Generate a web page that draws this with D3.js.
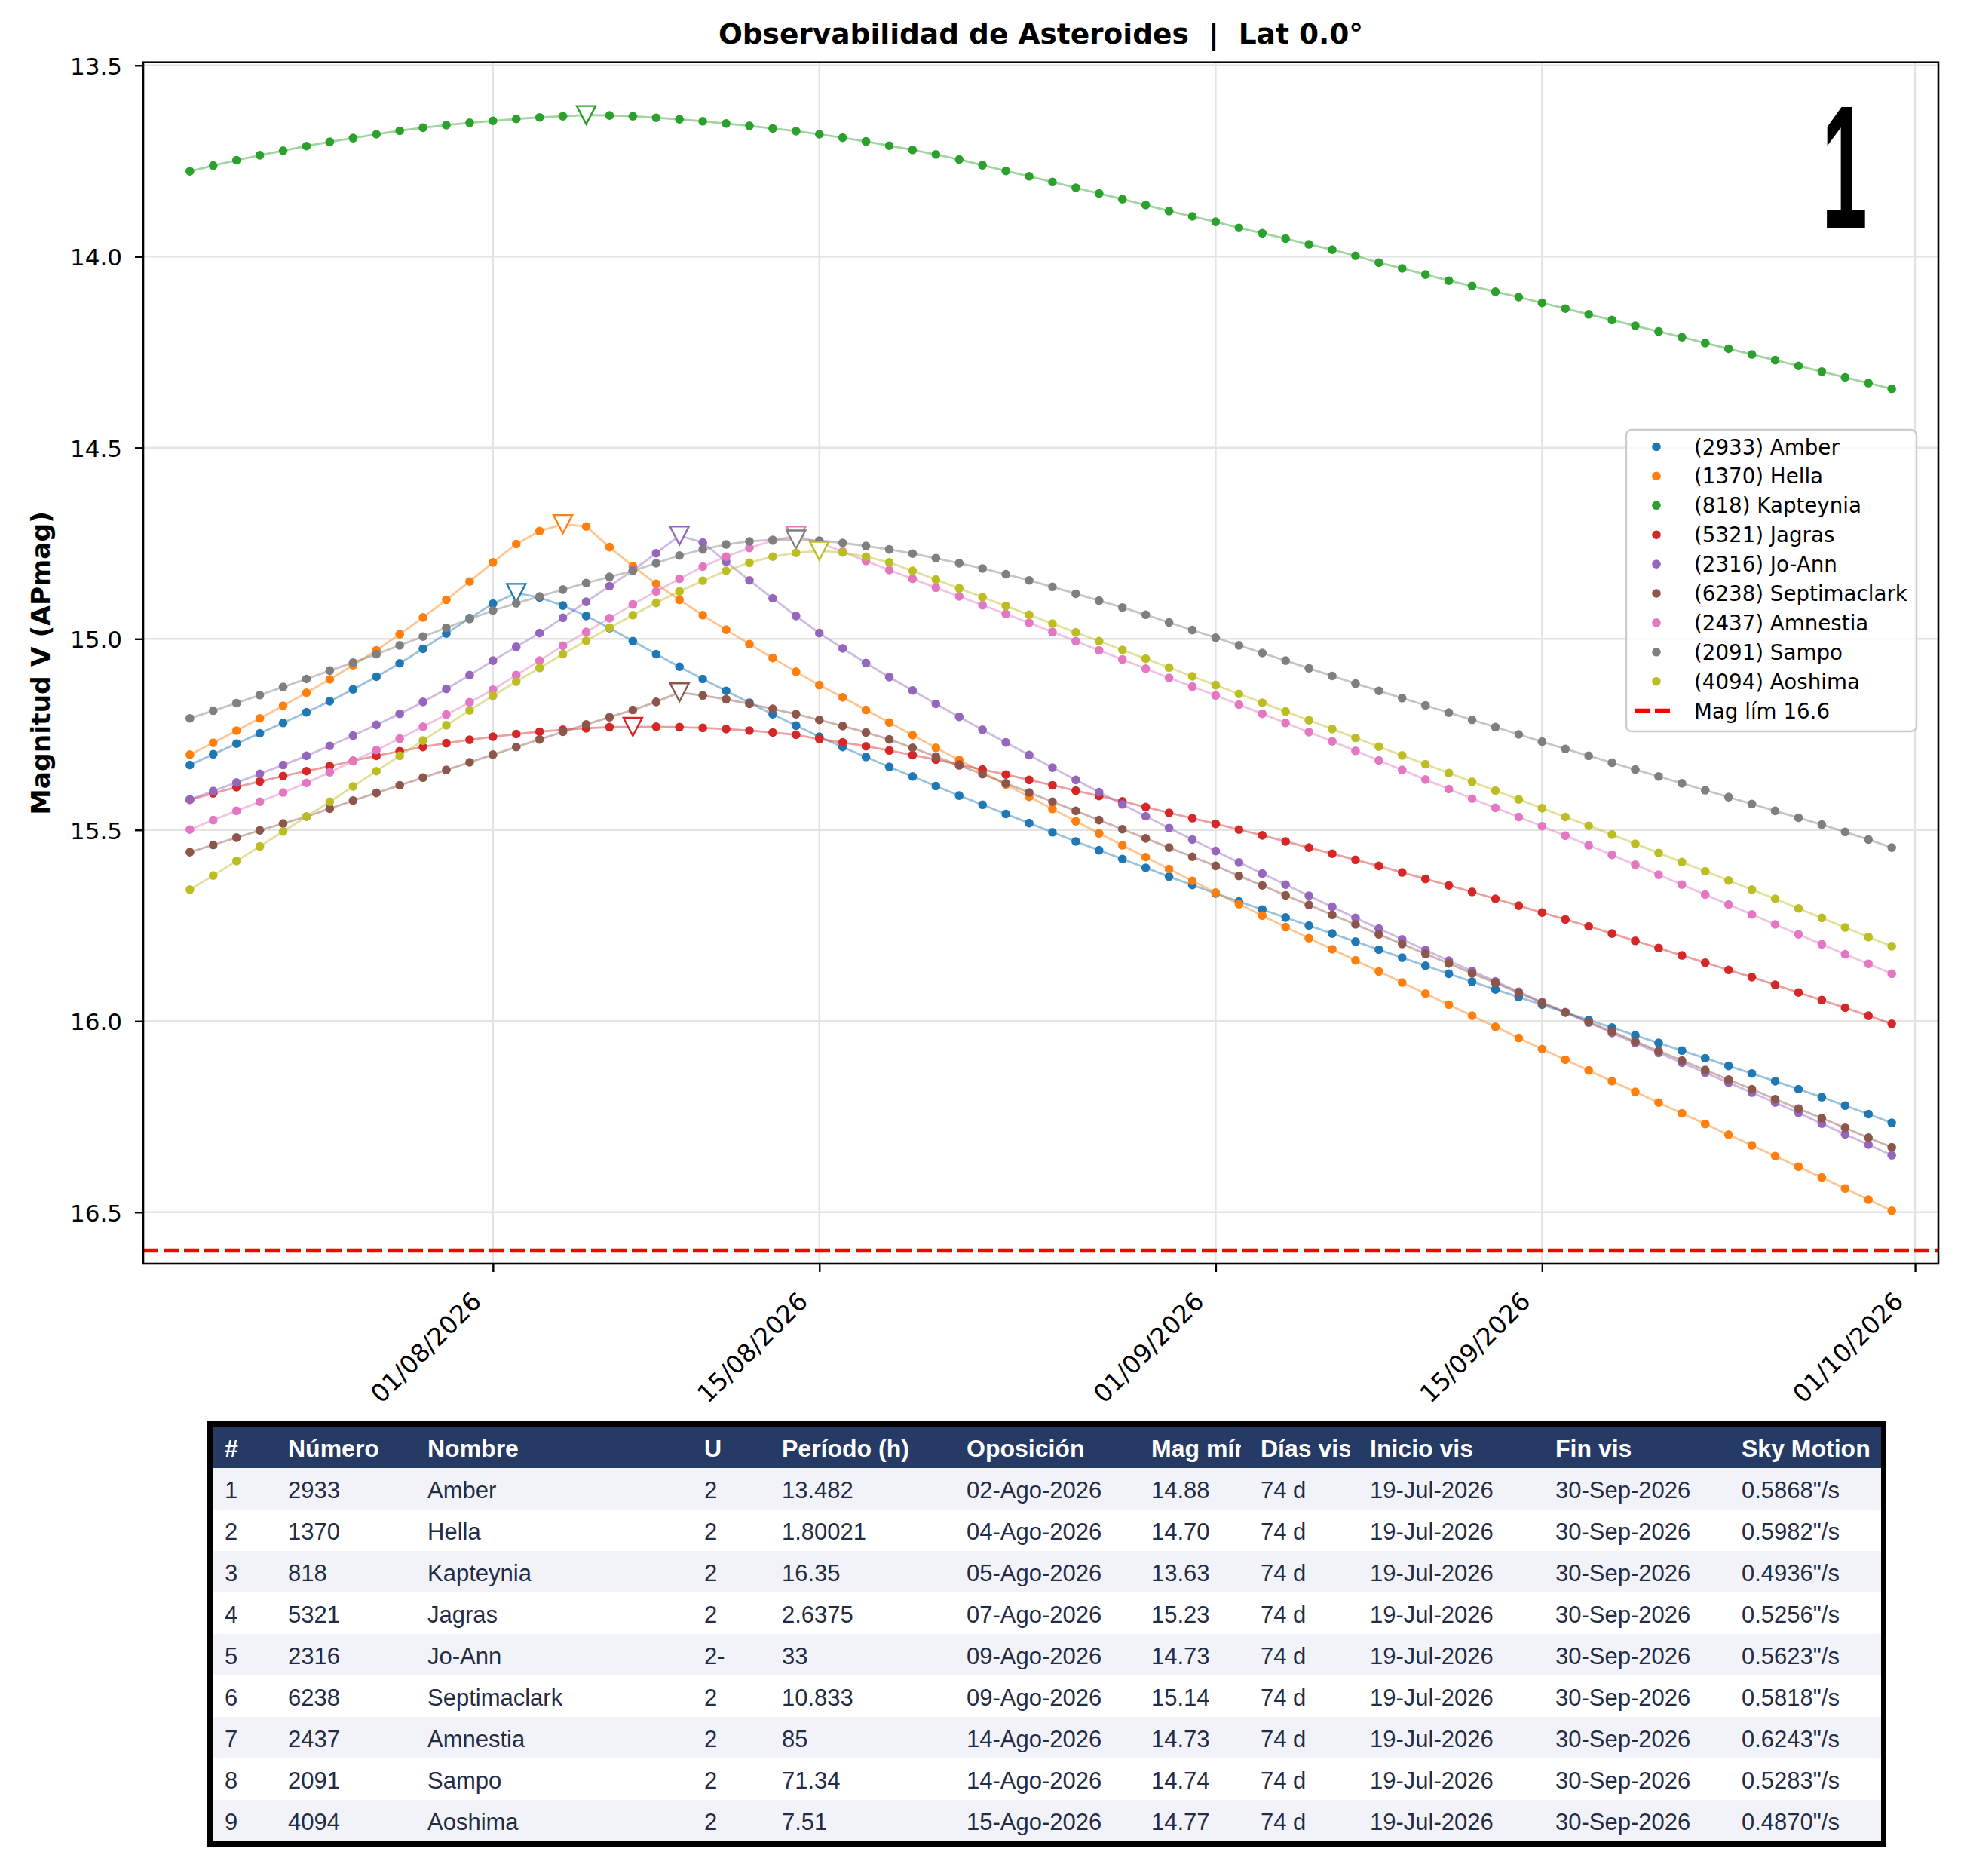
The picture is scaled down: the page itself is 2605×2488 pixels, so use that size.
<!DOCTYPE html>
<html>
<head>
<meta charset="utf-8">
<style>
html, body { margin:0; padding:0; background:#fff; }
svg { display:block; }
</style>
</head>
<body>
<svg id="chart" width="2605" height="2488"></svg>
<script src="https://cdn.jsdelivr.net/npm/d3@7/dist/d3.min.js"></script>
<script>
// daily magnitudes, 19-Jul-2026 .. 30-Sep-2026
var firstDay = "2026-07-19";
var names = ["(2933) Amber", "(1370) Hella", "(818) Kapteynia", "(5321) Jagras", "(2316) Jo-Ann",
             "(6238) Septimaclark", "(2437) Amnestia", "(2091) Sampo", "(4094) Aoshima"];
var colors = ["#1f77b4", "#ff7f0e", "#2ca02c", "#d62728", "#9467bd", "#8c564b", "#e377c2", "#7f7f7f", "#bcbd22"];

var amber = [15.330, 15.302, 15.274, 15.247, 15.220, 15.192, 15.163, 15.132, 15.099, 15.064,
  15.026, 14.986, 14.946, 14.908, 14.880, 14.892, 14.913, 14.940, 14.972, 15.006,
  15.040, 15.073, 15.105, 15.136, 15.167, 15.197, 15.227, 15.256, 15.283, 15.309,
  15.335, 15.360, 15.385, 15.410, 15.434, 15.458, 15.482, 15.506, 15.530, 15.553,
  15.576, 15.599, 15.622, 15.644, 15.666, 15.687, 15.708, 15.729, 15.750, 15.771,
  15.792, 15.813, 15.834, 15.855, 15.876, 15.897, 15.917, 15.937, 15.957, 15.977,
  15.997, 16.017, 16.037, 16.057, 16.077, 16.097, 16.117, 16.137, 16.157, 16.178,
  16.199, 16.221, 16.243, 16.266];
var hella = [15.303, 15.272, 15.240, 15.208, 15.175, 15.141, 15.106, 15.069, 15.030, 14.988,
  14.944, 14.898, 14.850, 14.800, 14.752, 14.718, 14.700, 14.706, 14.760, 14.810,
  14.856, 14.898, 14.938, 14.976, 15.014, 15.050, 15.086, 15.121, 15.153, 15.186,
  15.219, 15.252, 15.285, 15.317, 15.349, 15.381, 15.413, 15.445, 15.477, 15.509,
  15.540, 15.571, 15.602, 15.633, 15.664, 15.694, 15.724, 15.754, 15.783, 15.812,
  15.841, 15.870, 15.899, 15.928, 15.957, 15.986, 16.015, 16.044, 16.073, 16.101,
  16.129, 16.157, 16.185, 16.213, 16.241, 16.269, 16.297, 16.325, 16.353, 16.381,
  16.409, 16.438, 16.467, 16.496];
var kapteynia = [13.777, 13.762, 13.748, 13.735, 13.723, 13.711, 13.700, 13.690, 13.680, 13.671,
  13.663, 13.656, 13.650, 13.645, 13.640, 13.636, 13.633, 13.630, 13.631, 13.633,
  13.637, 13.641, 13.646, 13.652, 13.658, 13.665, 13.672, 13.680, 13.689, 13.699,
  13.710, 13.721, 13.733, 13.746, 13.761, 13.776, 13.790, 13.805, 13.820, 13.835,
  13.850, 13.865, 13.881, 13.895, 13.909, 13.925, 13.939, 13.953, 13.968, 13.982,
  13.998, 14.016, 14.031, 14.047, 14.063, 14.077, 14.092, 14.106, 14.121, 14.136,
  14.151, 14.166, 14.181, 14.196, 14.211, 14.226, 14.241, 14.256, 14.271, 14.286,
  14.301, 14.316, 14.331, 14.346];
var jagras = [15.421, 15.404, 15.388, 15.373, 15.359, 15.346, 15.333, 15.319, 15.306, 15.294,
  15.283, 15.273, 15.264, 15.256, 15.249, 15.243, 15.238, 15.234, 15.231, 15.230,
  15.230, 15.231, 15.233, 15.236, 15.240, 15.245, 15.251, 15.262, 15.271, 15.281,
  15.292, 15.304, 15.316, 15.329, 15.342, 15.355, 15.369, 15.383, 15.397, 15.411,
  15.425, 15.440, 15.455, 15.469, 15.484, 15.499, 15.514, 15.530, 15.546, 15.562,
  15.578, 15.594, 15.611, 15.628, 15.645, 15.662, 15.680, 15.698, 15.716, 15.734,
  15.752, 15.771, 15.790, 15.809, 15.828, 15.847, 15.866, 15.885, 15.905, 15.925,
  15.945, 15.965, 15.986, 16.007];
var joann = [15.420, 15.398, 15.376, 15.353, 15.330, 15.306, 15.280, 15.253, 15.225, 15.196,
  15.165, 15.131, 15.095, 15.057, 15.021, 14.985, 14.945, 14.903, 14.862, 14.821,
  14.776, 14.730, 14.748, 14.798, 14.847, 14.894, 14.940, 14.985, 15.025, 15.063,
  15.100, 15.135, 15.170, 15.204, 15.238, 15.271, 15.304, 15.337, 15.369, 15.401,
  15.433, 15.464, 15.495, 15.525, 15.555, 15.585, 15.614, 15.643, 15.672, 15.701,
  15.730, 15.758, 15.786, 15.814, 15.842, 15.869, 15.896, 15.923, 15.950, 15.977,
  16.004, 16.031, 16.057, 16.083, 16.109, 16.135, 16.161, 16.187, 16.213, 16.240,
  16.268, 16.296, 16.323, 16.351];
var septimaclark = [15.558, 15.539, 15.520, 15.501, 15.483, 15.465, 15.444, 15.423, 15.403, 15.383,
  15.363, 15.343, 15.323, 15.303, 15.283, 15.263, 15.243, 15.224, 15.205, 15.186,
  15.165, 15.140, 15.148, 15.158, 15.170, 15.183, 15.197, 15.212, 15.228, 15.245,
  15.263, 15.285, 15.308, 15.331, 15.354, 15.378, 15.402, 15.426, 15.450, 15.474,
  15.498, 15.522, 15.546, 15.570, 15.594, 15.620, 15.645, 15.671, 15.696, 15.722,
  15.747, 15.773, 15.798, 15.824, 15.849, 15.875, 15.900, 15.926, 15.952, 15.977,
  16.002, 16.027, 16.053, 16.078, 16.103, 16.128, 16.153, 16.178, 16.204, 16.229,
  16.254, 16.279, 16.305, 16.330];
var amnestia = [15.499, 15.474, 15.450, 15.426, 15.402, 15.377, 15.349, 15.320, 15.291, 15.261,
  15.230, 15.198, 15.166, 15.133, 15.095, 15.057, 15.018, 14.982, 14.946, 14.910,
  14.876, 14.843, 14.811, 14.785, 14.762, 14.743, 14.730, 14.748, 14.772, 14.796,
  14.820, 14.843, 14.866, 14.889, 14.912, 14.935, 14.958, 14.982, 15.006, 15.030,
  15.054, 15.078, 15.102, 15.125, 15.148, 15.172, 15.196, 15.220, 15.244, 15.268,
  15.293, 15.318, 15.343, 15.368, 15.393, 15.418, 15.442, 15.466, 15.490, 15.515,
  15.540, 15.565, 15.591, 15.617, 15.643, 15.669, 15.695, 15.721, 15.747, 15.773,
  15.799, 15.825, 15.850, 15.876];
var sampo = [15.208, 15.188, 15.168, 15.147, 15.126, 15.105, 15.083, 15.062, 15.040, 15.017,
  14.994, 14.971, 14.948, 14.926, 14.907, 14.889, 14.871, 14.854, 14.838, 14.822,
  14.802, 14.782, 14.766, 14.753, 14.745, 14.741, 14.740, 14.743, 14.749, 14.757,
  14.766, 14.777, 14.789, 14.802, 14.816, 14.831, 14.847, 14.864, 14.882, 14.900,
  14.918, 14.937, 14.957, 14.977, 14.997, 15.017, 15.037, 15.057, 15.077, 15.097,
  15.117, 15.136, 15.155, 15.174, 15.193, 15.212, 15.231, 15.250, 15.269, 15.288,
  15.306, 15.324, 15.342, 15.360, 15.378, 15.396, 15.414, 15.432, 15.450, 15.468,
  15.486, 15.505, 15.525, 15.546];
var aoshima = [15.656, 15.619, 15.581, 15.543, 15.504, 15.465, 15.426, 15.386, 15.346, 15.306,
  15.266, 15.226, 15.187, 15.149, 15.112, 15.076, 15.040, 15.005, 14.971, 14.938,
  14.906, 14.876, 14.848, 14.822, 14.801, 14.785, 14.775, 14.770, 14.774, 14.785,
  14.800, 14.822, 14.845, 14.868, 14.891, 14.914, 14.937, 14.960, 14.983, 15.006,
  15.029, 15.052, 15.075, 15.098, 15.121, 15.144, 15.167, 15.190, 15.213, 15.236,
  15.259, 15.282, 15.305, 15.328, 15.351, 15.374, 15.397, 15.420, 15.443, 15.466,
  15.489, 15.512, 15.536, 15.560, 15.584, 15.608, 15.632, 15.656, 15.680, 15.705,
  15.730, 15.755, 15.780, 15.804];
var series = [amber, hella, kapteynia, jagras, joann, septimaclark, amnestia, sampo, aoshima];

// opposition markers
var oppositionDates = ["2026-08-02", "2026-08-04", "2026-08-05", "2026-08-07", "2026-08-09",
                       "2026-08-09", "2026-08-14", "2026-08-14", "2026-08-15"];
var minMags = [14.88, 14.70, 13.63, 15.23, 14.73, 15.14, 14.73, 14.74, 14.77];
var magLimit = 16.6;

var xTicks = ["2026-08-01", "2026-08-15", "2026-09-01", "2026-09-15", "2026-10-01"];
var yTicks = [13.5, 14.0, 14.5, 15.0, 15.5, 16.0, 16.5];

// table
var tableHeader = ["#", "Número", "Nombre", "U", "Período (h)", "Oposición", "Mag mín", "Días vis", "Inicio vis", "Fin vis", "Sky Motion"];
var tableRows = [
  ["1", "2933", "Amber", "2", "13.482", "02-Ago-2026", "14.88", "74 d", "19-Jul-2026", "30-Sep-2026", "0.5868\"/s"],
  ["2", "1370", "Hella", "2", "1.80021", "04-Ago-2026", "14.70", "74 d", "19-Jul-2026", "30-Sep-2026", "0.5982\"/s"],
  ["3", "818", "Kapteynia", "2", "16.35", "05-Ago-2026", "13.63", "74 d", "19-Jul-2026", "30-Sep-2026", "0.4936\"/s"],
  ["4", "5321", "Jagras", "2", "2.6375", "07-Ago-2026", "15.23", "74 d", "19-Jul-2026", "30-Sep-2026", "0.5256\"/s"],
  ["5", "2316", "Jo-Ann", "2-", "33", "09-Ago-2026", "14.73", "74 d", "19-Jul-2026", "30-Sep-2026", "0.5623\"/s"],
  ["6", "6238", "Septimaclark", "2", "10.833", "09-Ago-2026", "15.14", "74 d", "19-Jul-2026", "30-Sep-2026", "0.5818\"/s"],
  ["7", "2437", "Amnestia", "2", "85", "14-Ago-2026", "14.73", "74 d", "19-Jul-2026", "30-Sep-2026", "0.6243\"/s"],
  ["8", "2091", "Sampo", "2", "71.34", "14-Ago-2026", "14.74", "74 d", "19-Jul-2026", "30-Sep-2026", "0.5283\"/s"],
  ["9", "4094", "Aoshima", "2", "7.51", "15-Ago-2026", "14.77", "74 d", "19-Jul-2026", "30-Sep-2026", "0.4870\"/s"]
];

var parse = d3.utcParse("%Y-%m-%d");
var day0 = parse(firstDay);
var dates = amber.map(function(d, i) { return d3.utcDay.offset(day0, i); });

var svg = d3.select("#chart");
svg.append("rect").attr("width", 2605).attr("height", 2488).attr("fill", "#fff");

var axL = 190, axR = 2571, axT = 82.7, axB = 1676;
var x = d3.scaleUtc()
    .domain([parse("2026-07-17"), parse("2026-10-02")])
    .range([axL, axR]);
var y = d3.scaleLinear()
    .domain([13.492, 16.6346])
    .range([axT, axB]);

var font = "DejaVu Sans, sans-serif";

// grid
var grid = svg.append("g").attr("stroke", "#e3e3e3").attr("stroke-width", 2.4);
grid.selectAll(".vx").data(xTicks).enter().append("line")
    .attr("x1", function(d) { return x(parse(d)); }).attr("x2", function(d) { return x(parse(d)); })
    .attr("y1", axT).attr("y2", axB);
grid.selectAll(".hy").data(yTicks).enter().append("line")
    .attr("x1", axL).attr("x2", axR)
    .attr("y1", function(d) { return y(d); }).attr("y2", function(d) { return y(d); });

// series
var plot = svg.append("g");
var line = d3.line()
    .x(function(d, i) { return x(dates[i]); })
    .y(function(d) { return y(d); });

series.forEach(function(vals, k) {
  var g = plot.append("g");
  g.append("path")
      .datum(vals)
      .attr("fill", "none")
      .attr("stroke", colors[k])
      .attr("stroke-opacity", 0.45)
      .attr("stroke-width", 2.8)
      .attr("d", line);
  g.selectAll("circle").data(vals).enter().append("circle")
      .attr("cx", function(d, i) { return x(dates[i]); })
      .attr("cy", function(d) { return y(d); })
      .attr("r", 5.8)
      .attr("fill", colors[k]);
  var ox = x(parse(oppositionDates[k])), oy = y(minMags[k]);
  g.append("path")
      .attr("d", "M" + (ox - 12.5) + "," + (oy - 12) + "L" + (ox + 12.5) + "," + (oy - 12) + "L" + ox + "," + (oy + 12) + "Z")
      .attr("fill", "#fff")
      .attr("stroke", colors[k])
      .attr("stroke-width", 2.4);
});

// limiting magnitude
plot.append("line")
    .attr("x1", axL).attr("x2", axR)
    .attr("y1", y(magLimit)).attr("y2", y(magLimit))
    .attr("stroke", "#ff0000")
    .attr("stroke-width", 5.5)
    .attr("stroke-dasharray", "20,7");

// axes
var xAxis = svg.append("g")
    .attr("transform", "translate(0," + axB + ")")
    .call(d3.axisBottom(x)
      .tickValues(xTicks.map(parse))
      .tickSize(11)
      .tickFormat(d3.utcFormat("%d/%m/%Y")));
xAxis.select(".domain").remove();
xAxis.selectAll(".tick line").attr("stroke", "#000").attr("stroke-width", 2.4);
xAxis.selectAll(".tick text")
    .attr("font-family", font)
    .attr("font-size", 33)
    .attr("fill", "#000")
    .attr("text-anchor", "end")
    .attr("x", -14)
    .attr("y", 52)
    .attr("dy", null)
    .attr("transform", "rotate(-45 -14 52)");

var yAxis = svg.append("g")
    .attr("transform", "translate(" + axL + ",0)")
    .call(d3.axisLeft(y)
      .tickValues(yTicks)
      .tickSize(11)
      .tickFormat(d3.format(".1f")));
yAxis.select(".domain").remove();
yAxis.selectAll(".tick line").attr("stroke", "#000").attr("stroke-width", 2.4);
yAxis.selectAll(".tick text")
    .attr("font-family", font)
    .attr("font-size", 31)
    .attr("fill", "#000")
    .attr("x", -28)
    .attr("dy", 11.3);

svg.append("rect")
    .attr("x", axL).attr("y", axT)
    .attr("width", axR - axL).attr("height", axB - axT)
    .attr("fill", "none")
    .attr("stroke", "#000")
    .attr("stroke-width", 2.6);

// titles
svg.append("text")
    .attr("x", (axL + axR) / 2).attr("y", 58)
    .attr("text-anchor", "middle")
    .attr("font-family", font).attr("font-weight", "bold").attr("font-size", 37.5)
    .style("white-space", "pre")
    .text("Observabilidad de Asteroides  |  Lat 0.0°");

svg.append("text")
    .attr("transform", "translate(66," + ((axT + axB) / 2) + ") rotate(-90)")
    .attr("text-anchor", "middle")
    .attr("font-family", font).attr("font-weight", "bold").attr("font-size", 34.5)
    .text("Magnitud V (APmag)");

// big panel number, fitted to its ink box
var bigFont = "bold 226px 'Liberation Sans Narrow', 'Liberation Sans', sans-serif";
var ctx = document.createElement("canvas").getContext("2d");
ctx.font = bigFont;
var m1 = ctx.measureText("1");
var inkW = m1.actualBoundingBoxRight + m1.actualBoundingBoxLeft;
var inkH = m1.actualBoundingBoxAscent + m1.actualBoundingBoxDescent;
var sx = 51 / inkW, sy = 162 / inkH;
svg.append("text")
    .attr("transform", "translate(" + (2423 + m1.actualBoundingBoxLeft * sx) + "," + (303 - m1.actualBoundingBoxDescent * sy) + ") scale(" + sx + "," + sy + ")")
    .attr("font-family", "Liberation Sans Narrow, Liberation Sans, sans-serif")
    .attr("font-weight", "bold").attr("font-size", 226)
    .text("1");

// legend
var lg = svg.append("g");
lg.append("rect")
    .attr("x", 2157).attr("y", 570).attr("width", 385).attr("height", 400)
    .attr("rx", 7)
    .attr("fill", "#fff").attr("fill-opacity", 0.8)
    .attr("stroke", "#cccccc").attr("stroke-width", 2.4);
var legendItems = names.concat(["Mag lím " + magLimit]);
legendItems.forEach(function(name, i) {
  var cy = 592.5 + i * 38.9;
  if (i < names.length) {
    lg.append("circle").attr("cx", 2197).attr("cy", cy).attr("r", 5.8).attr("fill", colors[i]);
  } else {
    lg.append("line").attr("x1", 2168).attr("x2", 2215).attr("y1", cy).attr("y2", cy)
        .attr("stroke", "#ff0000").attr("stroke-width", 5.5).attr("stroke-dasharray", "20,7");
  }
  lg.append("text")
      .attr("x", 2247).attr("y", cy + 10)
      .attr("font-family", font).attr("font-size", 27.7).attr("fill", "#000")
      .text(name);
});

// table
var colX = [298, 382, 567, 934, 1037, 1282, 1527, 1672, 1817, 2063, 2310];
var tLeft = 283, tRight = 2495, headTop = 1893, headH = 54, rowH = 55;
var tbl = svg.append("g");
tbl.append("rect")
    .attr("x", 274).attr("y", 1885).attr("width", 2228).attr("height", 565)
    .attr("fill", "#000");
tbl.append("rect")
    .attr("x", tLeft).attr("y", headTop).attr("width", tRight - tLeft).attr("height", headH)
    .attr("fill", "#263a66");
var defs = svg.append("defs");
tableHeader.forEach(function(h, j) {
  var cx1 = j < colX.length - 1 ? colX[j + 1] - 26 : tRight;
  defs.append("clipPath").attr("id", "hc" + j)
    .append("rect").attr("x", colX[j] - 10).attr("y", headTop).attr("width", cx1 - colX[j] + 10).attr("height", headH);
  tbl.append("text")
      .attr("x", colX[j]).attr("y", headTop + 39)
      .attr("clip-path", "url(#hc" + j + ")")
      .attr("font-family", "Liberation Sans, Arial, sans-serif")
      .attr("font-weight", "bold").attr("font-size", 32)
      .attr("fill", "#fff")
      .text(h);
});
tableRows.forEach(function(row, i) {
  var ry = headTop + headH + i * rowH;
  tbl.append("rect")
      .attr("x", tLeft).attr("y", ry).attr("width", tRight - tLeft).attr("height", rowH)
      .attr("fill", i % 2 === 0 ? "#f2f3f9" : "#ffffff");
  row.forEach(function(c, j) {
    tbl.append("text")
        .attr("x", colX[j]).attr("y", ry + 40)
        .attr("font-family", "Liberation Sans, Arial, sans-serif")
        .attr("font-size", 31)
        .attr("fill", "#232c44")
        .text(c);
  });
});
</script>
</body>
</html>
